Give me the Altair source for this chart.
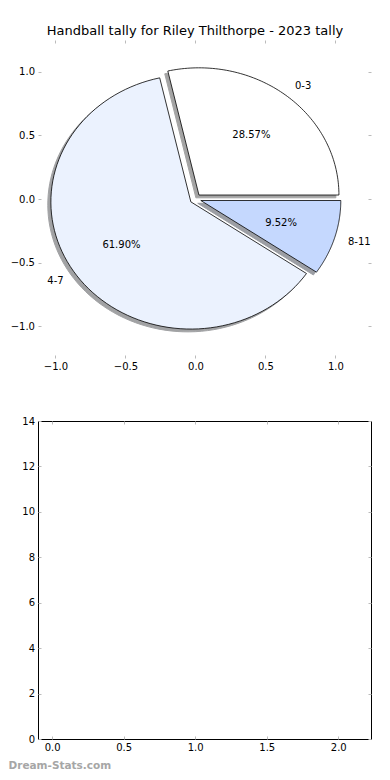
import altair as alt
import numpy as np
import pandas as pd

# ---------------- data ----------------
title_text = "Handball tally for Riley Thilthorpe - 2023 tally"
categories = ["0-3", "4-7", "8-11"]
counts = [6, 13, 2]
wedge_colors = ["#ffffff", "#ebf2fe", "#c5d8fe"]
explode = [0.04, 0.04, 0.04]

pie_ticks = [-1.0, -0.5, 0.0, 0.5, 1.0]
bottom_x_ticks = [0.0, 0.5, 1.0, 1.5, 2.0]
bottom_y_ticks = [0, 2, 4, 6, 8, 10, 12, 14]
watermark = "Dream-Stats.com"

# ---------------- pie geometry (from the counts) ----------------
radius = 1.0
shadow_off = -0.022
total = sum(counts)
wedge_rows, label_rows = [], []
start = 0.0
for i, (cat, v) in enumerate(zip(categories, counts)):
    frac = v / total
    t1, t2 = start, start + 360.0 * frac
    mid = np.deg2rad((t1 + t2) / 2)
    cx, cy = explode[i] * np.cos(mid), explode[i] * np.sin(mid)
    angs = np.linspace(np.deg2rad(t1), np.deg2rad(t2), 90)
    pts = [(cx, cy)] + [(cx + radius * np.cos(a), cy + radius * np.sin(a)) for a in angs] + [(cx, cy)]
    for k, (px, py) in enumerate(pts):
        wedge_rows.append({"wedge": cat, "order": k, "x": px, "y": py,
                           "sx": px + shadow_off, "sy": py + shadow_off})
    label_rows.append({
        "wedge": cat,
        "lx": cx + 1.1 * radius * np.cos(mid), "ly": cy + 1.1 * radius * np.sin(mid),
        "px": cx + 0.6 * radius * np.cos(mid), "py": cy + 0.6 * radius * np.sin(mid),
        "pct": f"{100 * frac:.2f}%",
        "side": "left" if np.cos(mid) >= 0 else "right",
    })
    start = t2

wedges = pd.DataFrame(wedge_rows)
labels = pd.DataFrame(label_rows)

FONT = "DejaVu Sans"
TICK = "#bbbbbb"


def axis(orient, values, fmt, show_labels, pad):
    return alt.Axis(orient=orient, values=values, format=fmt, labels=show_labels,
                    title=None, grid=False, domain=False, ticks=True,
                    tickColor=TICK, tickSize=3, tickWidth=1, offset=-3,
                    labelPadding=pad, labelFont=FONT, labelFontSize=10,
                    labelColor="black", labelFlush=False, labelOverlap=False)


W, H = 333, 318
pxs = alt.Scale(domain=[-1.125, 1.254], nice=False, zero=False)
pys = alt.Scale(domain=[-1.25, 1.25], nice=False, zero=False)

layers = []
# shadows
for i, cat in enumerate(categories):
    c = wedge_colors[i].lstrip("#")
    rgb = [int(c[j:j + 2], 16) for j in (0, 2, 4)]
    sh = "#%02x%02x%02x" % tuple(int(0.3 * q) for q in rgb)
    if i == 0:
        xenc = alt.X("sx:Q", scale=pxs, axis=axis("bottom", pie_ticks, ".1f", True, 3.5))
        yenc = alt.Y("sy:Q", scale=pys, axis=axis("left", pie_ticks, ".1f", True, 3.5))
    else:
        xenc = alt.X("sx:Q", scale=pxs, axis=None)
        yenc = alt.Y("sy:Q", scale=pys, axis=None)
    layers.append(
        alt.Chart(wedges).transform_filter(alt.datum.wedge == cat)
        .mark_line(fill=sh, stroke=sh, strokeWidth=1, opacity=0.5, strokeJoin="miter")
        .encode(x=xenc, y=yenc, order="order:Q")
    )
# wedges
for i, cat in enumerate(categories):
    layers.append(
        alt.Chart(wedges).transform_filter(alt.datum.wedge == cat)
        .mark_line(fill=wedge_colors[i], stroke="black", strokeWidth=0.8, strokeJoin="miter")
        .encode(x=alt.X("x:Q", scale=pxs, axis=None),
                y=alt.Y("y:Q", scale=pys, axis=None),
                order="order:Q")
    )
# category labels
for side in ["left", "right"]:
    layers.append(
        alt.Chart(labels).transform_filter(alt.datum.side == side)
        .mark_text(align=side, baseline="middle", font=FONT, fontSize=10, color="black")
        .encode(x=alt.X("lx:Q", scale=pxs, axis=None),
                y=alt.Y("ly:Q", scale=pys, axis=None),
                text="wedge:N")
    )
# percentage labels (carry top/right tick axes)
layers.append(
    alt.Chart(labels)
    .mark_text(align="center", baseline="middle", font=FONT, fontSize=10, color="black")
    .encode(x=alt.X("px:Q", scale=pxs, axis=axis("top", pie_ticks, ".1f", False, 3.5)),
            y=alt.Y("py:Q", scale=pys, axis=axis("right", pie_ticks, ".1f", False, 3.5)),
            text="pct:N")
)

top = alt.layer(*layers).resolve_axis(x="independent", y="independent").properties(
    width=W, height=H,
    title=alt.TitleParams(title_text, font=FONT, fontSize=13, fontWeight="normal",
                          color="black", anchor="middle", frame="group", dx=-9.5,
                          offset=-8.5, baseline="alphabetic"),
    view=alt.ViewBackground(stroke="transparent"),
)

# ---------------- empty bottom panel ----------------
empty = pd.DataFrame({"bx": pd.Series([], dtype=float), "by": pd.Series([], dtype=float)})
bxs = alt.Scale(domain=[-0.099, 2.229], nice=False, zero=False)
bys = alt.Scale(domain=[0, 14], nice=False, zero=False)

b1 = alt.Chart(empty).mark_point().encode(
    x=alt.X("bx:Q", scale=bxs, axis=axis("bottom", bottom_x_ticks, ".1f", True, 3.5)),
    y=alt.Y("by:Q", scale=bys, axis=axis("left", bottom_y_ticks, "d", True, 3.5)),
)
b2 = alt.Chart(empty).mark_point().encode(
    x=alt.X("bx:Q", scale=bxs, axis=axis("top", bottom_x_ticks, ".1f", False, 3.5)),
    y=alt.Y("by:Q", scale=bys, axis=axis("right", bottom_y_ticks, "d", False, 3.5)),
)
bottom = alt.layer(b1, b2).resolve_axis(x="independent", y="independent").properties(
    width=W, height=H,
    title=alt.TitleParams(watermark, orient="bottom", anchor="start", frame="group",
                          dx=-29.5, offset=8, font=FONT, fontSize=10.5,
                          fontWeight="bold", color="#a6a6a6", baseline="top"),
    view=alt.ViewBackground(stroke="black", strokeWidth=1),
)

chart = alt.vconcat(top, bottom, spacing=63, bounds="flush").properties(
    padding={"left": 0, "top": 16, "right": 4, "bottom": 4},
    background="white",
).configure(font=FONT)

chart.save("out.html", embed_options={"renderer": "svg", "actions": False})
